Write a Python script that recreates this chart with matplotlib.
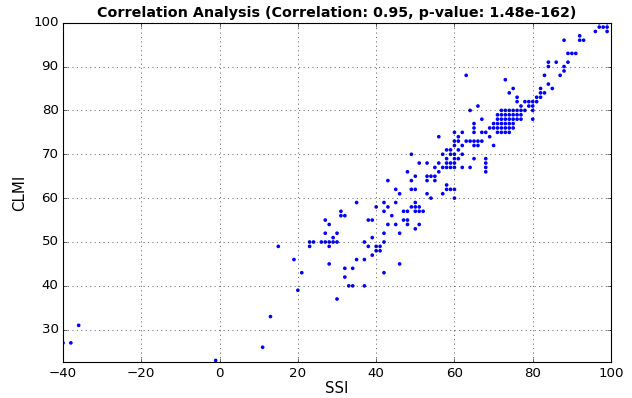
import matplotlib
matplotlib.use('Agg')
import matplotlib.pyplot as plt


# SSI / CLMI pairs
ssi = [
    -40, -38, -36, -1, 11, 13, 15, 19, 20, 21,
    23, 24, 23, 26, 27, 28, 29, 30,
    27, 28, 27, 29, 30, 28, 28, 30,
    31, 31, 32, 32, 32, 33, 34, 34, 35, 35,
    37, 37, 37, 38, 39, 38, 39, 39, 40, 41, 40, 41, 42,
    42, 42, 43, 40, 42, 43, 43, 42, 44,
    45, 45, 45, 46, 46, 46, 47, 48, 47, 48, 48, 49, 50, 51, 50, 50, 51, 52, 51, 50,
    48, 49, 49, 50, 50, 53, 54, 55, 53, 55, 53, 54, 49, 51, 53, 56, 55, 56, 57, 56, 58,
    58, 59, 60, 60,
    57, 58, 59, 60, 62, 64, 68,
    58, 59, 60, 68,
    58, 60, 61, 65, 68,
    57, 59, 60, 62,
    58, 59, 61,
    60, 62, 65, 66, 70,
    60, 61, 63, 64, 65, 66, 67,
    61, 69,
    60, 62, 65, 67, 68, 71, 72, 73, 74,
    68,
    65, 69, 70, 71, 72, 73, 74, 75,
    65, 70, 71, 72, 73, 74, 75,
    67, 71, 72, 73, 74, 75, 76, 77, 80,
    71, 72, 73, 74, 75, 76, 77,
    64, 72, 73, 74, 75, 76, 77, 78, 80,
    66, 77, 79, 80,
    76, 78, 79, 80, 81,
    76, 81, 82,
    63,
    73, 74, 75, 82, 82, 83, 84, 85, 83, 87, 84, 84, 86, 88, 88, 89, 89, 90, 91,
    88, 92, 92, 93, 96, 97, 98, 99, 99, 97, 99,
]
clmi = [
    27, 27, 31, 23, 26, 33, 49, 46, 39, 43,
    50, 50, 49, 50, 50, 50, 50, 50,
    52, 54, 55, 51, 52, 49, 45, 37,
    57, 56, 56, 44, 42, 40, 40, 44, 46, 59,
    46, 40, 50, 55, 55, 49, 51, 47, 48, 48, 49, 49, 50,
    43, 59, 58, 58, 57, 64, 54, 52, 56,
    62, 59, 54, 61, 52, 45, 57, 57, 55, 55, 54, 58, 58, 58, 59, 57, 57, 57, 54, 53,
    66, 64, 62, 62, 65, 65, 65, 65, 64, 64, 61, 60, 70, 68, 68, 68, 67, 66, 61, 74, 63,
    62, 62, 62, 60,
    67, 67, 67, 67, 67, 67, 67,
    68, 68, 68, 68,
    69, 69, 69, 69, 69,
    70, 70, 70, 70,
    71, 71, 71,
    72, 72, 72, 72, 72,
    73, 73, 73, 73, 73, 73, 73,
    74, 74,
    75, 75, 75, 75, 75, 75, 75, 75, 75,
    66,
    76, 76, 76, 76, 76, 76, 76, 76,
    77, 77, 77, 77, 77, 77, 77,
    78, 78, 78, 78, 78, 78, 78, 78, 78,
    79, 79, 79, 79, 79, 79, 79,
    80, 80, 80, 80, 80, 80, 80, 80, 80,
    81, 81, 81, 81,
    82, 82, 82, 82, 82,
    83, 83, 83,
    88,
    87, 84, 85, 85, 84, 84, 86, 85, 88, 88, 90, 91, 91, 90, 89, 91, 93, 93, 93,
    96, 97, 96, 96, 98, 99, 99, 99, 98, 100, 100,
]

corr = 0.95
p_value = '1.48e-162'

plt.style.use('classic')
fig = plt.figure(figsize=(632 / 80, 398 / 80), dpi=80, facecolor='white')
ax = fig.add_subplot(111)
fig.subplots_adjust(left=0.0997, right=0.9668, bottom=0.09, top=0.943)

ax.scatter(ssi, clmi, s=11, color='blue', edgecolors='none')
ax.set_title(f'Correlation Analysis (Correlation: {corr:.2f}, p-value: {p_value})',
             fontweight='bold', fontsize=12.8)
ax.set_xlabel('SSI', fontsize=13.5, labelpad=1)
ax.set_ylabel('CLMI', fontsize=13.5)
ax.set_xlim(-40, 100)
ax.set_ylim(22.6, 100)
ax.set_xticks(range(-40, 101, 20))
ax.set_yticks(range(30, 101, 10))
ax.grid(True)

fig.savefig('out.png', dpi=80, facecolor='white')
